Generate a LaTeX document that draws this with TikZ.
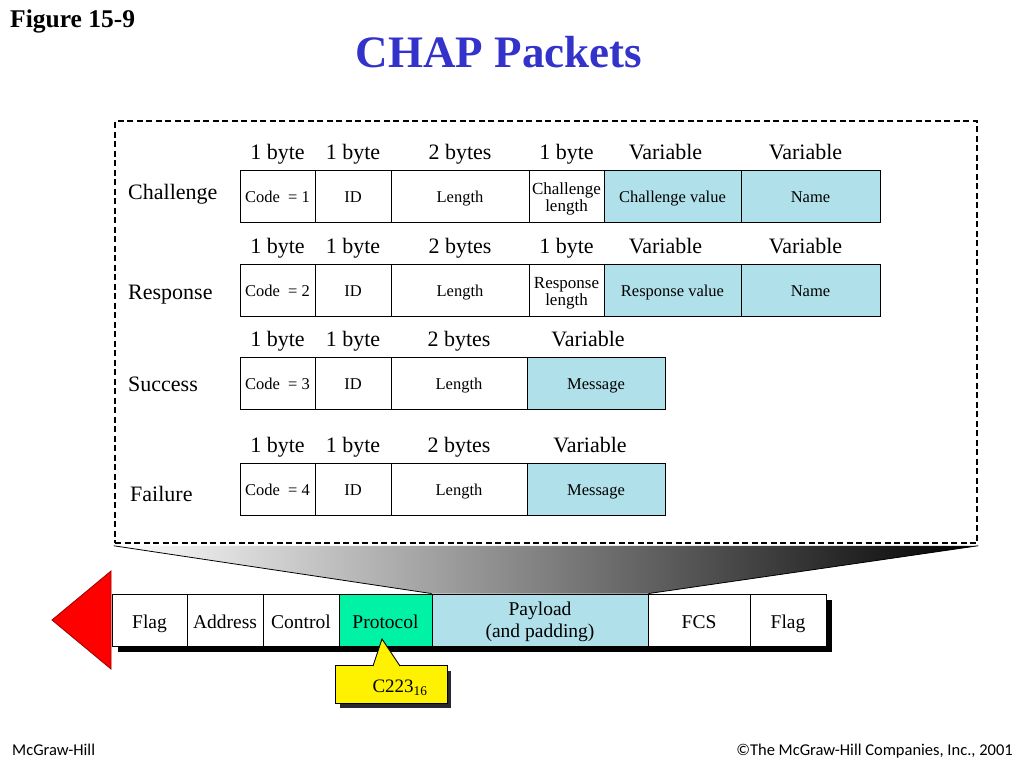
\documentclass[tikz,border=0pt]{standalone}
\usepackage{fontspec}
\setmainfont{Liberation Serif}
\newfontfamily\footfont{Carlito}
\definecolor{titleblue}{RGB}{51,51,204}
\definecolor{cellblue}{RGB}{176,224,234}
\definecolor{protogreen}{RGB}{0,242,165}
\definecolor{shadowgray}{RGB}{40,40,50}
\newcommand{\mycell}[6]{\node[cell,#5,minimum width={#3-#2}] (#1) at ({(#2+#3)/2},#4) {#6};}
\begin{document}
\begin{tikzpicture}[x=1pt,y=-1pt,
  cell/.style={draw, line width=0.9pt, minimum height=52pt, inner sep=0pt, align=center,
    font=\fontsize{16.5}{17}\selectfont},
  sl/.style={text height=13pt, text depth=0pt},
  smalltxt/.style={font=\fontsize{17}{17}\selectfont, align=center, inner sep=0pt},
  bluecell/.style={fill=cellblue, sl},
  hdr/.style={font=\fontsize{22}{24}\selectfont, anchor=base, inner sep=0pt},
  rowlbl/.style={font=\fontsize{22}{24}\selectfont, anchor=base west, inner sep=0pt},
  fcell/.style={draw, line width=0.9pt, minimum height=52pt, inner sep=0pt, align=center,
    font=\fontsize{19.5}{19}\selectfont, fill=white},
  fsl/.style={text height=16pt, text depth=0pt},
  foot/.style={font=\footfont\fontsize{16.5}{17}\selectfont, inner sep=0pt}
]
\useasboundingbox (0,0) rectangle (1024,768);
\fill[white] (0,0) rectangle (1024,768);

% titles
\node[font=\bfseries\fontsize{25.5}{28}\selectfont, anchor=base west, inner sep=0pt] (fig) at (10,28) {Figure 15-9};
\node[font=\bfseries\fontsize{45}{48}\selectfont, text=titleblue, anchor=base, inner sep=0pt] (title) at (499,67) {CHAP Packets};

% dashed frame
\node[draw, line width=2.5pt, dash pattern=on 6pt off 3.5pt, minimum width=862pt, minimum height=422pt, inner sep=0pt] (frame) at (546,332) {};

% Challenge row
\mycell{a1}{240}{315}{196}{sl}{Code \ = 1}
\mycell{a2}{315}{391}{196}{sl}{ID}
\mycell{a3}{391}{529}{196}{sl}{Length}
\mycell{a4}{529}{604}{196}{}{}
\node[smalltxt] (a4t) at ([yshift=-3pt]a4.center) {Challenge\\length};
\mycell{a5}{604}{741}{196}{bluecell}{Challenge value}
\mycell{a6}{741}{880}{196}{bluecell}{Name}
\node[hdr] (ah1) at ([yshift=10pt]a1.north) {1 byte};
\node[hdr] (ah2) at ([yshift=10pt]a2.north) {1 byte};
\node[hdr] (ah3) at ([yshift=10pt]a3.north) {2 bytes};
\node[hdr] (ah4) at ([yshift=10pt]a4.north) {1 byte};
\node[hdr] (ah5) at ([yshift=10pt,xshift=-7pt]a5.north) {Variable};
\node[hdr] (ah6) at ([yshift=10pt,xshift=-5pt]a6.north) {Variable};
\node[rowlbl] (la) at (128,199) {Challenge};

% Response row
\mycell{b1}{240}{315}{290}{sl}{Code \ = 2}
\mycell{b2}{315}{391}{290}{sl}{ID}
\mycell{b3}{391}{529}{290}{sl}{Length}
\mycell{b4}{529}{604}{290}{}{}
\node[smalltxt] (b4t) at ([yshift=-3pt]b4.center) {Response\\length};
\mycell{b5}{604}{741}{290}{bluecell}{Response value}
\mycell{b6}{741}{880}{290}{bluecell}{Name}
\node[hdr] (bh1) at ([yshift=10pt]b1.north) {1 byte};
\node[hdr] (bh2) at ([yshift=10pt]b2.north) {1 byte};
\node[hdr] (bh3) at ([yshift=10pt]b3.north) {2 bytes};
\node[hdr] (bh4) at ([yshift=10pt]b4.north) {1 byte};
\node[hdr] (bh5) at ([yshift=10pt,xshift=-7pt]b5.north) {Variable};
\node[hdr] (bh6) at ([yshift=10pt,xshift=-5pt]b6.north) {Variable};
\node[rowlbl] (lb) at (128,299) {Response};

% Success row
\mycell{c1}{240}{315}{383}{sl}{Code \ = 3}
\mycell{c2}{315}{391}{383}{sl}{ID}
\mycell{c3}{391}{527}{383}{sl}{Length}
\mycell{c4}{527}{665}{383}{bluecell}{Message}
\node[hdr] (ch1) at ([yshift=10pt]c1.north) {1 byte};
\node[hdr] (ch2) at ([yshift=10pt]c2.north) {1 byte};
\node[hdr] (ch3) at ([yshift=10pt]c3.north) {2 bytes};
\node[hdr] (ch4) at ([yshift=10pt,xshift=-8pt]c4.north) {Variable};
\node[rowlbl] (lc) at (128,391) {Success};

% Failure row
\mycell{d1}{240}{315}{489}{sl}{Code \ = 4}
\mycell{d2}{315}{391}{489}{sl}{ID}
\mycell{d3}{391}{527}{489}{sl}{Length}
\mycell{d4}{527}{665}{489}{bluecell}{Message}
\node[hdr] (dh1) at ([yshift=10pt]d1.north) {1 byte};
\node[hdr] (dh2) at ([yshift=10pt]d2.north) {1 byte};
\node[hdr] (dh3) at ([yshift=10pt]d3.north) {2 bytes};
\node[hdr] (dh4) at ([yshift=10pt,xshift=-6pt]d4.north) {Variable};
\node[rowlbl] (ld) at (130,501) {Failure};

% frame shadow and cells
\fill[black] (118,600) rectangle (832,652);
\node[fcell, fsl, minimum width=75pt] (f1) at (149.5,620) {Flag};
\node[fcell, fsl, minimum width=76pt] (f2) at (225,620) {Address};
\node[fcell, fsl, minimum width=76pt] (f3) at (301,620) {Control};
\node[fcell, fsl, minimum width=93pt, fill=protogreen] (f4) at (385.5,620) {Protocol};
\node[fcell, minimum width=216pt, fill=cellblue] (f5) at (540,620) {};
\node[align=center, inner sep=0pt, font=\fontsize{19.5}{22}\selectfont] (f5t) at ([yshift=-2pt]f5.center) {Payload\\(and padding)};
\node[fcell, fsl, minimum width=102pt] (f6) at (699,620) {FCS};
\node[fcell, fsl, minimum width=76pt] (f7) at (788,620) {Flag};

% gradient zoom region
\shade[left color=white, right color=black]
  ([yshift=-1.5pt]frame.south west) -- ([yshift=-1.5pt]frame.south east) -- (f5.north east) -- (f5.north west) -- cycle;
\draw[line width=0.8pt] ([yshift=-1.5pt]frame.south west) -- (f5.north west);
\draw[line width=0.8pt] ([yshift=-1.5pt]frame.south east) -- (f5.north east);

% red arrow
\coordinate (tip) at (52,620);
\filldraw[fill=red, draw=red!60!black, line width=0.8pt] (tip) -- (111,571) -- (111,669) -- cycle;

% yellow callout
\fill[shadowgray] (340,671) rectangle (451,708);
\node[draw, fill=yellow, line width=0.9pt, minimum width=112pt, minimum height=38pt, inner sep=0pt] (c223) at (391,684.5) {};
\coordinate (ptip) at (382,639);
\fill[yellow] (373,666.5) -- (ptip) -- (400,666.5) -- cycle;
\draw[line width=0.9pt] (373,666) -- (ptip) -- (400,666);
\node[font=\fontsize{19}{20}\selectfont, inner sep=0pt] (c223t) at (400,688) {C223$_{\mathrm{16}}$};

% footer
\node[foot, anchor=base west] (mgh) at (12,755) {McGraw-Hill};
\node[foot, anchor=base east] (copy) at (1013,755) {©The McGraw-Hill Companies, Inc., 2001};
\end{tikzpicture}
\end{document}
